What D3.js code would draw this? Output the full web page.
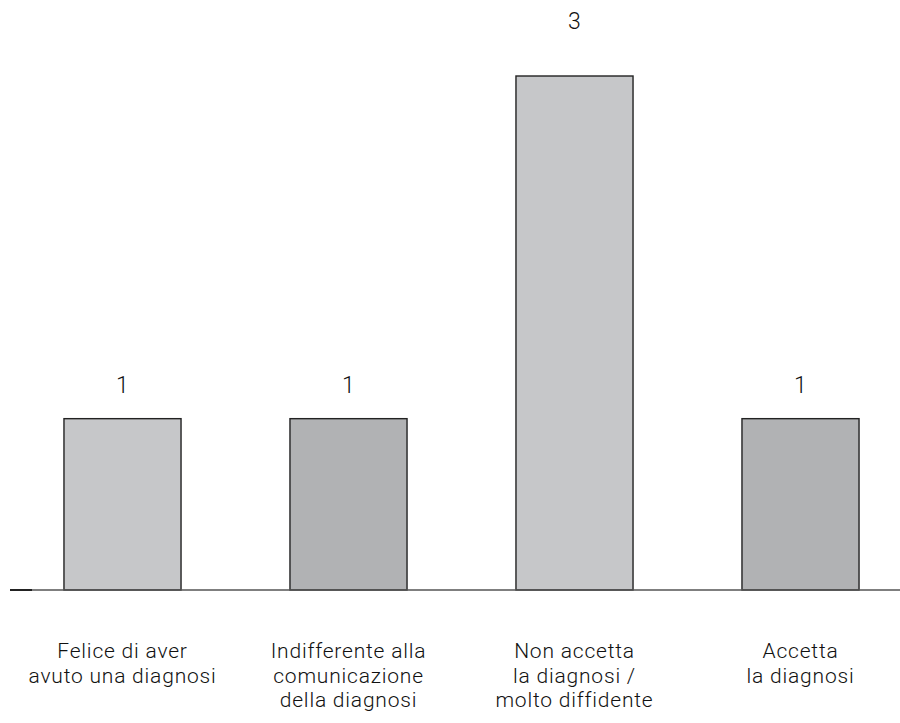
<!DOCTYPE html>
<html>
<head>
<meta charset="utf-8">
<script src="https://cdn.jsdelivr.net/npm/d3@7"></script>
<style>
  html, body { margin: 0; padding: 0; background: #fff; }
  svg { display: block; }
  text { font-family: Roboto, "Noto Sans", sans-serif; font-weight: 300; fill: #111; }
</style>
</head>
<body>
<svg id="chart" width="900" height="723"></svg>
<script>
// Categories (each label split into its printed lines)
const categories = [
  "Felice di aver avuto una diagnosi",
  "Indifferente alla comunicazione della diagnosi",
  "Non accetta la diagnosi / molto diffidente",
  "Accetta la diagnosi"
];
const labelLines = [
  ["Felice di aver", "avuto una diagnosi"],
  ["Indifferente alla", "comunicazione", "della diagnosi"],
  ["Non accetta", "la diagnosi /", "molto diffidente"],
  ["Accetta", "la diagnosi"]
];
const values = [1, 1, 3, 1];
const barColors = ["#c6c7c9", "#b1b2b4", "#c6c7c9", "#b1b2b4"];

const svg = d3.select("#chart");
const baseY = 590;

const x = d3.scaleBand()
  .domain(categories)
  .range([9.5, 913.5])
  .paddingInner(0.482)
  .paddingOuter(0.241);

const y = d3.scaleLinear()
  .domain([0, 3])
  .range([baseY, 76]);

// Bars
svg.append("g")
  .selectAll("rect")
  .data(categories)
  .join("rect")
  .attr("x", d => x(d))
  .attr("y", (d, i) => y(values[i]))
  .attr("width", x.bandwidth())
  .attr("height", (d, i) => baseY - y(values[i]))
  .attr("fill", (d, i) => barColors[i])
  .attr("stroke", "#222")
  .attr("stroke-width", 1.4);

// Baseline
svg.append("line")
  .attr("x1", 10).attr("x2", 900)
  .attr("y1", baseY).attr("y2", baseY)
  .attr("stroke", "#555")
  .attr("stroke-width", 1.6);
svg.append("line")
  .attr("x1", 10).attr("x2", 32)
  .attr("y1", baseY).attr("y2", baseY)
  .attr("stroke", "#222")
  .attr("stroke-width", 2);

// Value labels above the bars (taller bars carry their label a bit higher)
svg.append("g")
  .selectAll("text")
  .data(categories)
  .join("text")
  .attr("x", d => x(d) + x.bandwidth() / 2)
  .attr("y", (d, i) => y(values[i]) - (15.5 + 10.5 * values[i]))
  .attr("text-anchor", "middle")
  .style("font-size", "23px")
  .text((d, i) => values[i]);

// Category labels, one text per printed line
svg.append("g")
  .selectAll("g")
  .data(categories)
  .join("g")
  .each(function (d, i) {
    const cx = x(d) + x.bandwidth() / 2;
    d3.select(this)
      .selectAll("text")
      .data(labelLines[i])
      .join("text")
      .attr("x", cx)
      .attr("y", (line, k) => 658 + k * 24.7)
      .attr("text-anchor", "middle")
      .style("font-size", "21px")
      .style("letter-spacing", "0.8px")
      .text(line => line);
  });
</script>
</body>
</html>
